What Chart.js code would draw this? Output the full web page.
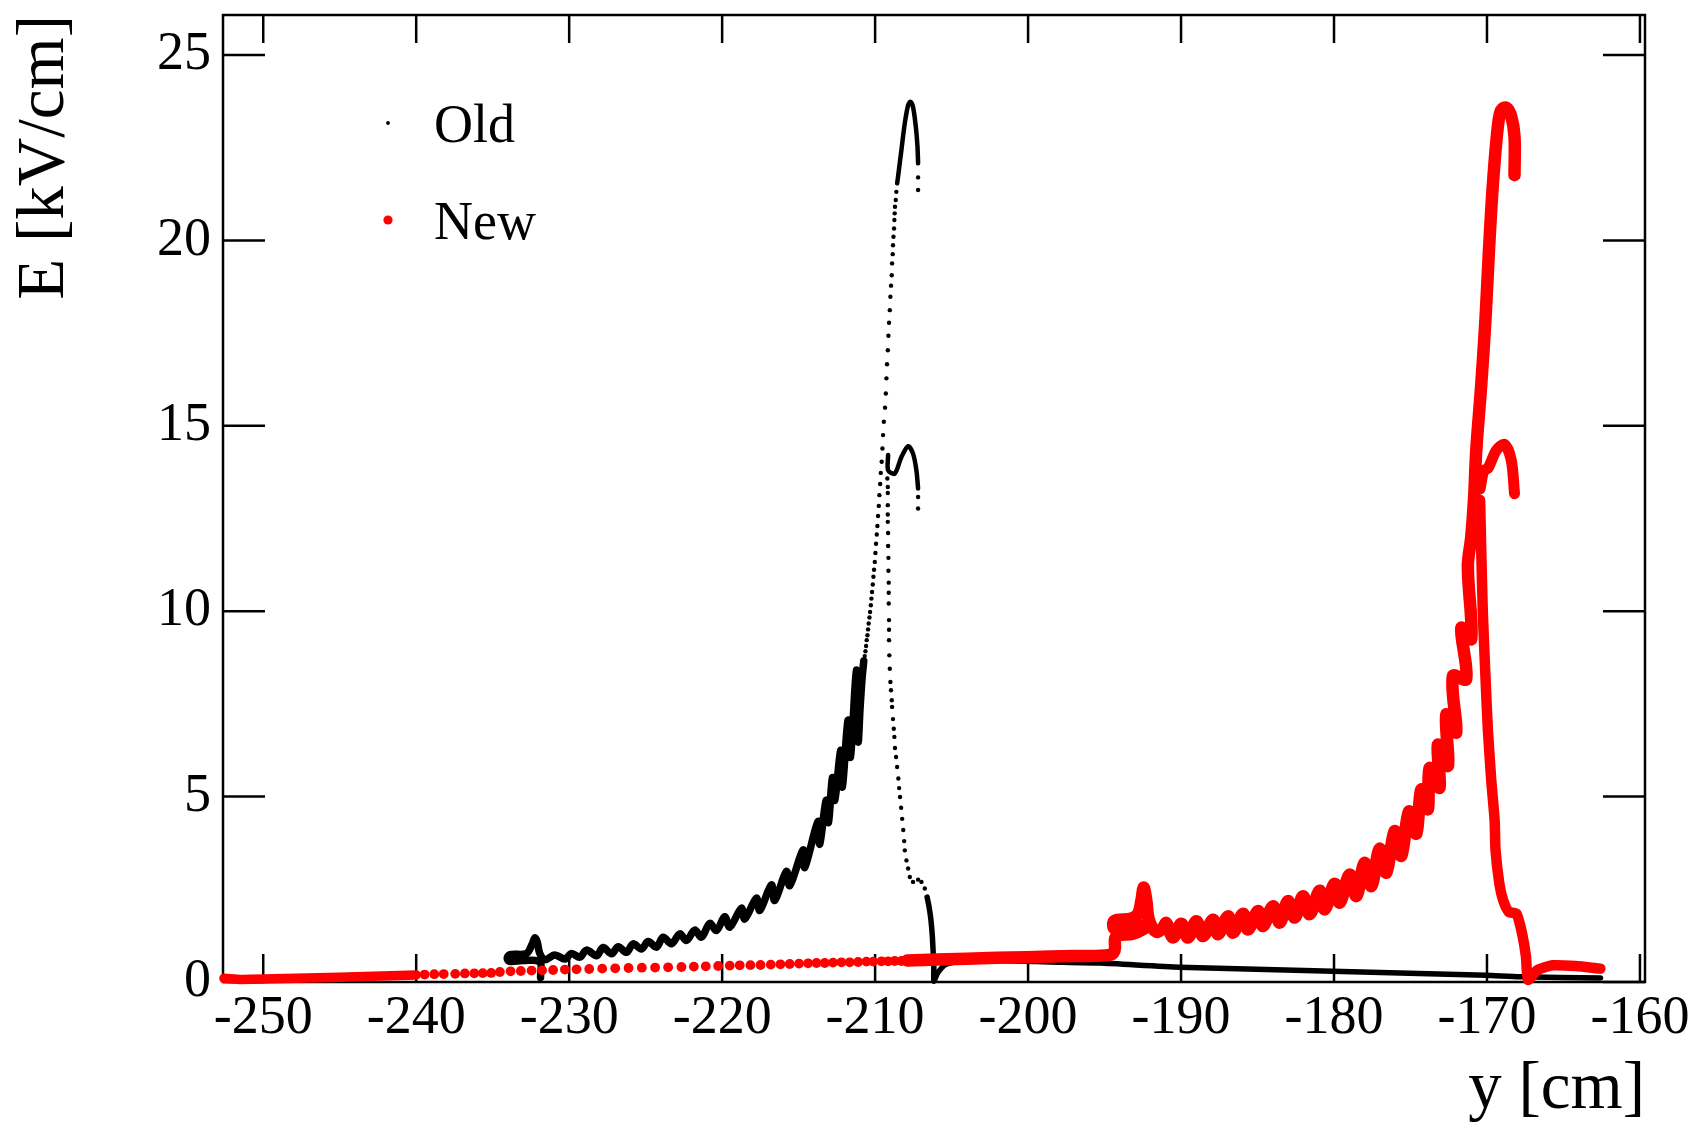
<!DOCTYPE html>
<html>
<head>
<meta charset="utf-8">
<title>E vs y</title>
<script src="https://cdn.jsdelivr.net/npm/chart.js@4.4.1/dist/chart.umd.min.js"></script>
<style>
  html, body { margin: 0; padding: 0; background: #fff; }
</style>
</head>
<body>
<canvas id="fieldChart" width="1697" height="1131"></canvas>
<script>
// axis ranges and tick labels
var xMin = -252.63, xMax = -159.67
var yMin = 0, yMax = 26.08
var xTickValues = [-250, -240, -230, -220, -210, -200, -190, -180, -170, -160]
var yTickValues = [0, 5, 10, 15, 20, 25]
var seriesNames = ["Old", "New"]
var seriesColors = ["#000000", "#ff0000"]

// ---- Old: position y [cm] / field E [kV/cm] ----
var oldWavePos = [-231.87, -231.92, -233.01, -233.92, -234.05, -233.88, -232.79, -232.40, -232.24, -232.09, -231.92, -231.59,
  -230.94, -230.28, -229.85, -229.30, -228.87, -228.21, -227.78, -227.23, -226.80, -226.25, -225.82, -225.27,
  -224.84, -224.29, -223.86, -223.31, -222.77, -222.33, -221.79, -221.35, -220.81, -220.37, -219.83, -219.50,
  -218.74, -218.52, -217.76, -217.54, -216.78, -216.56, -215.80, -215.58, -214.71, -214.60, -213.73, -213.62,
  -213.20, -213.05, -212.79, -212.64, -212.25, -212.14, -211.77, -211.61, -211.22, -211.11, -210.98, -210.85, -210.74]
var oldWaveField = [0.12, 0.54, 0.58, 0.56, 0.65, 0.74, 0.77, 1.04, 1.19, 1.08, 0.77, 0.60,
  0.73, 0.62, 0.77, 0.67, 0.86, 0.71, 0.93, 0.76, 0.95, 0.80, 1.03, 0.89,
  1.09, 0.94, 1.21, 1.03, 1.30, 1.12, 1.40, 1.21, 1.58, 1.39, 1.76, 1.48,
  1.99, 1.70, 2.26, 1.93, 2.62, 2.20, 2.98, 2.60, 3.56, 3.09, 4.33, 3.72,
  4.90, 4.30, 5.51, 4.90, 6.25, 5.26, 7.06, 6.07, 8.41, 6.48, 7.40, 8.20, 8.66]

var oldRisePos = [-210.68, -210.63, -210.59, -210.55, -210.50, -210.46, -210.42, -210.37, -210.33, -210.28, -210.24, -210.20,
  -210.15, -210.11, -210.07, -210.02, -209.98, -209.94, -209.89, -209.85, -209.81, -209.76, -209.72, -209.67,
  -209.63, -209.57, -209.52, -209.48, -209.43, -209.35, -209.30, -209.26, -209.22, -209.17, -209.13, -209.09,
  -209.04, -209.00, -208.96, -208.91, -208.89, -208.85, -208.83, -208.80, -208.76, -208.74, -208.72, -208.70,
  -208.65, -208.61, -207.19, -207.19]
var oldRiseField = [8.79, 8.92, 9.06, 9.22, 9.35, 9.51, 9.67, 9.83, 9.98, 10.16, 10.34, 10.52,
  10.72, 10.93, 11.12, 11.33, 11.57, 11.82, 12.07, 12.30, 12.57, 12.84, 13.13, 13.43,
  13.73, 14.03, 14.39, 14.75, 15.11, 15.49, 15.87, 16.28, 16.66, 17.04, 17.43, 17.78,
  18.12, 18.48, 18.78, 19.06, 19.38, 19.63, 19.87, 20.10, 20.32, 20.55, 20.73, 20.91,
  21.09, 21.31, 21.70, 21.36]

var oldTopPos = [-208.56, -208.50, -208.28, -208.06, -207.84, -207.69, -207.52, -207.34, -207.23, -207.19]
var oldTopField = [21.54, 21.72, 22.44, 23.16, 23.65, 23.74, 23.60, 23.07, 22.53, 22.08]

var oldHumpPos = [-209.15, -209.15, -208.72, -208.28, -207.84, -207.52, -207.30, -207.19]
var oldHumpField = [14.21, 13.80, 13.71, 14.16, 14.45, 14.25, 13.80, 13.31]

var oldFallPos = [-207.19, -207.19, -209.20, -209.17, -209.17, -209.17, -209.17, -209.17, -209.15, -209.15, -209.13, -209.13,
  -209.11, -209.11, -209.11, -209.09, -209.09, -209.09, -209.07, -209.04, -209.00, -208.96, -208.91, -208.89,
  -208.83, -208.78, -208.74, -208.70, -208.63, -208.56, -208.48, -208.43, -208.37, -208.30, -208.23, -208.16,
  -208.10, -208.06, -207.95, -207.84, -207.73, -207.52, -207.19, -206.97, -206.75]
var oldFallField = [13.08, 12.77, 13.58, 13.35, 13.19, 12.86, 12.61, 12.41, 12.11, 11.76, 11.44, 11.09,
  10.77, 10.50, 10.21, 9.76, 9.50, 9.22, 8.81, 8.45, 8.09, 7.87, 7.60, 7.42,
  7.09, 6.83, 6.61, 6.31, 6.07, 5.80, 5.49, 5.23, 4.99, 4.70, 4.40, 4.10,
  3.80, 3.55, 3.28, 3.06, 2.83, 2.70, 2.76, 2.70, 2.52]

var oldTailPos = [-206.60, -206.47, -206.36, -206.27, -206.21, -206.16, -206.16, -205.90, -205.40, -204.50, -202.00, -199.50,
  -198.58, -195.32, -190.09, -180.08, -170.07, -167.87, -162.58]
var oldTailField = [2.29, 2.02, 1.71, 1.30, 0.86, 0.41, 0.02, 0.25, 0.47, 0.56, 0.58, 0.55,
  0.54, 0.51, 0.40, 0.29, 0.18, 0.14, 0.11]

// ---- New ----
var newStartPos = [-252.57, -251.50, -250.00, -245.00, -240.00]
var newStartField = [0.10, 0.07, 0.08, 0.13, 0.19]

var newDotPos = [-239.45, -238.82, -238.20, -237.45, -236.82, -236.20, -235.65, -235.10, -234.53, -233.83, -233.16, -232.46,
  -231.77, -231.05, -230.28, -229.52, -228.69, -227.84, -226.99, -226.12, -225.25, -224.38, -223.53, -222.66,
  -221.85, -221.07, -220.26, -219.50, -218.85, -218.15, -217.49, -216.82, -216.19, -215.58, -214.97, -214.38,
  -213.83, -213.29, -212.75, -212.20, -211.66, -211.11, -210.57, -210.13, -209.58, -209.15, -208.72, -208.28, -207.74]
var newDotField = [0.20, 0.21, 0.215, 0.22, 0.23, 0.235, 0.24, 0.245, 0.27, 0.289, 0.297, 0.308,
  0.316, 0.324, 0.335, 0.343, 0.351, 0.36, 0.37, 0.378, 0.385, 0.39, 0.397, 0.405,
  0.415, 0.424, 0.432, 0.442, 0.45, 0.455, 0.459, 0.469, 0.477, 0.486, 0.496, 0.504,
  0.513, 0.513, 0.523, 0.531, 0.531, 0.54, 0.55, 0.55, 0.558, 0.558, 0.566, 0.566, 0.577]

var newWavePos = [-207.90, -204.00, -200.10, -197.00, -194.66, -194.34, -194.25, -193.14, -192.50, -192.30, -193.00, -194.35,
  -194.35, -193.25, -192.81, -192.59, -192.44, -192.27, -192.09, -191.60, -191.20,
  -190.96, -190.52, -189.98, -189.55, -189.00, -188.56, -187.91, -187.58, -186.93, -186.60, -185.95, -185.62,
  -184.97, -184.64, -183.99, -183.55, -183.01, -182.57, -182.03, -181.59, -180.94, -180.61, -179.96, -179.63,
  -178.98, -178.54, -178.00, -177.56, -177.02, -176.58, -176.04, -175.60, -175.10, -174.62, -174.30, -173.86,
  -173.75, -173.10, -173.21, -172.55, -172.66, -172.01, -172.23, -171.36, -171.68, -171.03, -171.25,
  -171.03, -170.85, -170.70, -170.37, -170.09, -169.87, -169.61, -169.29, -169.07, -168.74, -168.41, -168.20, -168.20]
var newWaveField = [0.58, 0.63, 0.67, 0.70, 0.73, 0.86, 1.22, 1.30, 1.42, 1.50, 1.52, 1.45,
  1.65, 1.71, 1.84, 2.20, 2.55, 2.20, 1.66, 1.35, 1.45,
  1.59, 1.20, 1.57, 1.20, 1.64, 1.24, 1.68, 1.29, 1.77, 1.33, 1.84, 1.42,
  1.91, 1.51, 2.04, 1.60, 2.18, 1.74, 2.31, 1.83, 2.46, 1.96, 2.65, 2.14,
  2.90, 2.32, 3.21, 2.59, 3.59, 2.95, 4.07, 3.40, 4.60, 4.00, 5.19, 4.66,
  5.77, 5.24, 6.40, 5.83, 7.21, 6.73, 8.25, 8.17, 9.55, 9.25, 11.21,
  12.00, 13.00, 14.34, 16.14, 17.94, 19.74, 21.54, 23.07, 23.52, 23.58, 23.34, 22.80, 21.76]

var newHumpPos = [-170.45, -170.20, -169.94, -169.39, -168.85, -168.41, -168.20]
var newHumpField = [13.30, 13.80, 13.85, 14.34, 14.50, 14.07, 13.17]

var newFallPos = [-170.45, -170.38, -170.27, -170.09, -169.94, -169.72, -169.50, -169.44, -169.19, -168.94, -168.57, -168.07,
  -167.70, -167.45, -167.32, -166.70, -165.71, -164.21, -162.59]
var newFallField = [13.00, 11.73, 9.94, 8.14, 6.79, 5.44, 4.36, 3.55, 2.65, 2.20, 1.89, 1.84,
  1.30, 0.68, 0.06, 0.32, 0.45, 0.43, 0.36]

function toPoints(pos, field) {
  return pos.map((p, i) => ({ x: p, y: field[i] }))
}

// dense stretches are drawn as a thick line, sparse ones as dots
function lineSet(pos, field, color, width, order, tension) {
  return {
    data: toPoints(pos, field), showLine: true, borderColor: color, borderWidth: width,
    borderJoinStyle: "round", borderCapStyle: "round", pointRadius: 0, tension: tension || 0, clip: false, order: order
  }
}
function dotSet(pos, field, color, radius, order) {
  return {
    data: toPoints(pos, field), showLine: false, backgroundColor: color, borderWidth: 0,
    pointRadius: radius, clip: false, order: order
  }
}

var serif = "'Liberation Serif', 'Times New Roman', serif"

// inward ticks on all four sides + frame, ROOT style
const frameTicks = {
  id: "frameTicks",
  beforeDatasetsDraw(chart) {
    const { ctx, chartArea: a, scales } = chart
    ctx.save()
    ctx.strokeStyle = "#000"
    ctx.lineWidth = 2.5
    ctx.strokeRect(a.left, a.top, a.right - a.left, a.bottom - a.top)
    ctx.beginPath()
    scales.x.ticks.forEach(t => {
      let px = scales.x.getPixelForValue(t.value)
      ctx.moveTo(px, a.bottom); ctx.lineTo(px, a.bottom - 28)
      ctx.moveTo(px, a.top); ctx.lineTo(px, a.top + 28)
    })
    scales.y.ticks.forEach(t => {
      let py = scales.y.getPixelForValue(t.value)
      ctx.moveTo(a.left, py); ctx.lineTo(a.left + 42, py)
      ctx.moveTo(a.right, py); ctx.lineTo(a.right - 42, py)
    })
    ctx.stroke()
    ctx.restore()
  }
}

// small legend box in the upper left, built from the series names/colours
const markerLegend = {
  id: "markerLegend",
  afterDraw(chart) {
    const ctx = chart.ctx
    const radii = [1.9, 4.6]
    const rows = [123, 220]
    ctx.save()
    ctx.font = "54px " + serif
    ctx.textBaseline = "alphabetic"
    for (let i = 0; i < seriesNames.length; i++) {
      ctx.fillStyle = seriesColors[i]
      ctx.beginPath()
      ctx.arc(388, rows[i], radii[i], 0, Math.PI * 2)
      ctx.fill()
      ctx.fillStyle = "#000"
      ctx.fillText(seriesNames[i], 434, rows[i] + 19)
    }
    ctx.restore()
  }
}

const black = seriesColors[0], red = seriesColors[1]

new Chart(document.getElementById("fieldChart").getContext("2d"), {
  type: "scatter",
  data: {
    datasets: [
      lineSet(oldWavePos, oldWaveField, black, 7.5, 2, 0.35),
      dotSet(oldRisePos, oldRiseField, black, 2.2, 2),
      lineSet(oldTopPos, oldTopField, black, 4.5, 2, 0.3),
      lineSet(oldHumpPos, oldHumpField, black, 4.5, 2, 0.3),
      dotSet(oldFallPos, oldFallField, black, 2.2, 2),
      lineSet(oldTailPos, oldTailField, black, 5.5, 2, 0.2),
      lineSet(newStartPos, newStartField, red, 9.5, 1),
      dotSet(newDotPos, newDotField, red, 4.9, 1),
      lineSet(newWavePos, newWaveField, red, 12.5, 1, 0.35),
      lineSet(newHumpPos, newHumpField, red, 11, 1, 0.3),
      lineSet(newFallPos, newFallField, red, 10.5, 1, 0.2)
    ]
  },
  options: {
    responsive: false,
    animation: false,
    events: [],
    layout: { padding: { top: 15, right: 52, bottom: 0, left: 0 } },
    plugins: { legend: { display: false }, tooltip: { enabled: false } },
    scales: {
      x: {
        type: "linear", min: xMin, max: xMax,
        afterBuildTicks: s => { s.ticks = xTickValues.map(v => ({ value: v })) },
        afterFit: s => { s.height = 149; s.paddingLeft = 0; s.paddingRight = 0 },
        grid: { display: false, drawTicks: false },
        border: { display: false },
        ticks: { color: "#000", padding: 4, maxRotation: 0, autoSkip: false, font: { family: serif, size: 54 }, callback: v => String(v) },
        title: { display: true, text: "y [cm]", align: "end", color: "#000", font: { family: serif, size: 67 }, padding: { top: 0, bottom: 0 } }
      },
      y: {
        type: "linear", min: yMin, max: yMax,
        afterBuildTicks: s => { s.ticks = yTickValues.map(v => ({ value: v })) },
        afterFit: s => { s.width = 223; s.paddingTop = 0; s.paddingBottom = 0 },
        grid: { display: false, drawTicks: false },
        border: { display: false },
        ticks: { color: "#000", padding: 12, autoSkip: false, font: { family: serif, size: 54 }, callback: v => String(v) },
        title: { display: true, text: "E [kV/cm]", align: "end", color: "#000", font: { family: serif, size: 67 }, padding: { top: 5, bottom: 0 } }
      }
    }
  },
  plugins: [frameTicks, markerLegend]
});
</script>
</body>
</html>
